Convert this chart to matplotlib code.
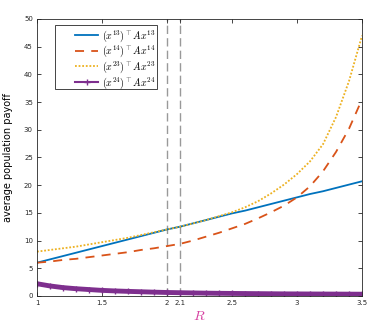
import matplotlib
matplotlib.use("Agg")
import matplotlib.pyplot as plt
from matplotlib.patches import Rectangle

plt.rcParams["mathtext.fontset"] = "cm"

# R values sampled along the x-axis
R = [1.0, 1.1, 1.2, 1.3, 1.4, 1.5, 1.6, 1.7, 1.8, 1.9, 2.0, 2.1, 2.2,
     2.3, 2.4, 2.5, 2.6, 2.7, 2.8, 2.9, 3.0, 3.1, 3.2, 3.3, 3.4, 3.5]

payoff_13 = [6.0, 6.6, 7.2, 7.8, 8.4, 9.0, 9.6, 10.2, 10.8, 11.4, 12.0, 12.5, 13.1,
             13.7, 14.3, 14.9, 15.4, 16.0, 16.6, 17.2, 17.8, 18.4, 18.9, 19.5, 20.1, 20.7]
payoff_14 = [6.0, 6.2, 6.5, 6.7, 7.0, 7.3, 7.6, 7.9, 8.3, 8.6, 9.0, 9.4, 10.0,
             10.7, 11.4, 12.2, 13.0, 14.0, 15.1, 16.3, 17.8, 19.8, 22.5, 26.0, 30.2, 35.5]
payoff_23 = [8.0, 8.3, 8.6, 8.9, 9.3, 9.7, 10.1, 10.5, 11.0, 11.5, 12.0, 12.5, 13.1,
             13.7, 14.4, 15.1, 16.0, 17.1, 18.5, 20.1, 22.0, 24.3, 27.4, 32.3, 38.8, 47.0]
payoff_24 = [2.2, 1.8, 1.5, 1.3, 1.15, 1.0, 0.9, 0.82, 0.75, 0.68, 0.62, 0.58, 0.54,
             0.5, 0.47, 0.45, 0.43, 0.41, 0.39, 0.37, 0.36, 0.35, 0.34, 0.33, 0.32, 0.31]

vlines = [2.0, 2.1]
xticks = [1, 1.5, 2, 2.1, 2.5, 3, 3.5]
xticklabels = ["1", "1.5", "2", "2.1", "2.5", "3", "3.5"]
yticks = list(range(0, 51, 5))

fig = plt.figure(figsize=(3.74, 3.22), dpi=100)
ax = fig.add_axes([0.099, 0.081, 0.869, 0.860])

for v in vlines:
    ax.axvline(v, color="#999999", linestyle=(0, (6, 3)), linewidth=1.0, zorder=1)

ax.plot(R, payoff_13, color="#0072BD", linewidth=1.3, label=r"$(x^{13})^{\top}Ax^{13}$")
ax.plot(R, payoff_14, color="#D95319", linewidth=1.3, linestyle=(0, (5, 4)),
        label=r"$(x^{14})^{\top}Ax^{14}$")
ax.plot(R, payoff_23, color="#EDB120", linewidth=1.3, linestyle=(0, (1, 1)),
        label=r"$(x^{23})^{\top}Ax^{23}$")
ax.plot(R, payoff_24, color="#7E2F8E", linewidth=3.5, marker="+", markersize=5,
        label=r"$(x^{24})^{\top}Ax^{24}$")

ax.set_xlim(1, 3.5)
ax.set_ylim(0, 50)
ax.set_xticks(xticks)
ax.set_xticklabels(xticklabels)
ax.set_yticks(yticks)
ax.tick_params(direction="in", length=3, width=0.6, labelsize=5, colors="#262626",
               top=True, right=True, pad=3)
for s in ax.spines.values():
    s.set_color("#262626")
    s.set_linewidth(0.6)

ax.set_xlabel(r"$R$", color="#D63FA0", fontsize=10, labelpad=2)
ax.set_ylabel("average population payoff", fontsize=7, labelpad=8)

# MATLAB-style legend: wide left margin inside the box
ax.add_patch(Rectangle((0.055, 0.747), 0.314, 0.231, transform=ax.transAxes,
                       facecolor="white", edgecolor="#262626", linewidth=0.6, zorder=4))
leg = ax.legend(loc="upper left", bbox_to_anchor=(0.118, 0.968), fontsize=7.2,
                frameon=False, handlelength=2.3, borderpad=0, borderaxespad=0,
                labelspacing=0.0, handletextpad=0.4)
leg.set_zorder(5)
leg.legend_handles[3].set_linewidth(1.5)

fig.savefig("out.png", dpi=100)
